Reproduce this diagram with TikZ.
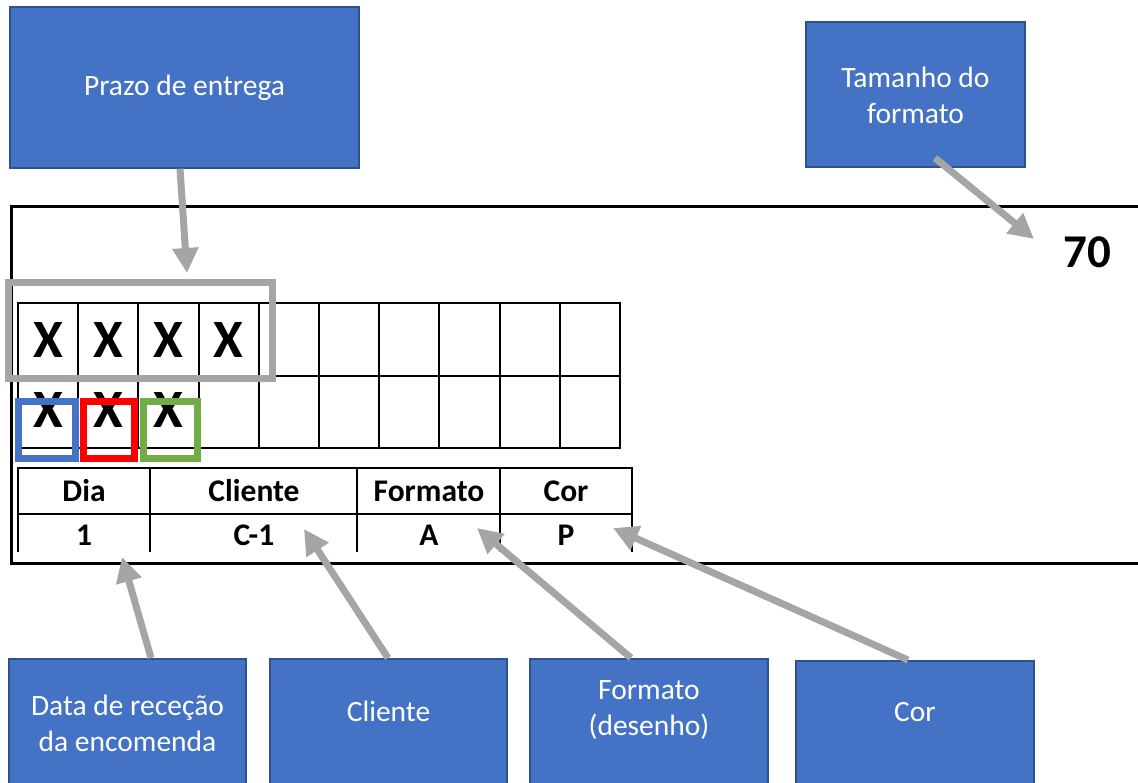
\documentclass[tikz,border=0pt]{standalone}
\usepackage{fontspec}
\setmainfont{Carlito}
\usetikzlibrary{arrows.meta}
\definecolor{boxblue}{HTML}{4472C4}
\definecolor{boxedge}{HTML}{2F528F}
\definecolor{agray}{HTML}{A5A5A5}
\definecolor{xblue}{HTML}{4472C4}
\definecolor{xred}{HTML}{FF0000}
\definecolor{xgreen}{HTML}{70AD47}
\tikzset{
  bbox/.style={draw=boxedge, line width=1.5pt, fill=boxblue, inner sep=0pt},
  btext/.style={text=white, font=\fontsize{29.5}{36}\selectfont, align=center, inner sep=0pt},
  garrow/.style={draw=agray, line width=7pt, -{Triangle[length=25pt,width=25pt]}},
  xmark/.style={font=\fontsize{54}{54}\selectfont\bfseries, inner sep=0pt},
  ttext/.style={font=\fontsize{31.5}{31.5}\selectfont\bfseries, inner sep=0pt},
  gridline/.style={line width=2pt, black},
}
\begin{document}
\begin{tikzpicture}[x=1pt,y=-1pt]
\useasboundingbox (0,0) rectangle (1138,783);
% outer frame
\draw[line width=3pt] (1145,207) -- (11,207) -- (11,563) -- (1145,563);
% top blue boxes
\node[bbox, minimum width=349pt, minimum height=161pt] (prazo) at (184.5,87.5) {};
\node[btext] (prazot) at (184.5,88) {Prazo de entrega};
\node[bbox, minimum width=219pt, minimum height=145pt] (tam) at (915.5,94.5) {};
\node[btext] (tamt) at (915.5,95) {Tamanho do\\formato};
% bottom blue boxes
\node[bbox, minimum width=237pt, minimum height=135pt, anchor=north] (data) at (127.5,658) {};
\node[bbox, minimum width=237pt, minimum height=135pt, anchor=north] (cli) at (388.5,658) {};
\node[bbox, minimum width=238pt, minimum height=135pt, anchor=north] (form) at (649,658) {};
\node[bbox, minimum width=238pt, minimum height=135pt, anchor=north] (cor) at (915,660) {};
\node[btext] (datat) at (127.5,723) {Data de receção\\da encomenda};
\node[btext] (clit) at (388.5,711) {Cliente};
\node[btext] (formt) at (649,710) {Formato\\(desenho)};
\node[btext] (cort) at (915,712) {Cor};
% grid
\foreach \i in {0,...,10} {
  \draw[gridline] ({18+60.2*\i},303) -- ({18+60.2*\i},448);
}
\foreach \y in {303,376,448} {
  \draw[gridline] (17,\y) -- (621,\y);
}
\foreach \i in {0,...,3} {
  \node[xmark] (xa\i) at ({48+60.2*\i},340) {X};
}
\foreach \i in {0,...,2} {
  \node[xmark] (xb\i) at ({48+60.2*\i},410) {X};
}
% gray highlight
\draw[agray, line width=7pt] (8.5,282.5) rectangle (272.5,378.5);
% coloured boxes
\draw[xblue, line width=7pt] (18.5,401.5) rectangle (75.5,458);
\draw[xred, line width=7pt] (83.5,401.5) rectangle (134,458);
\draw[xgreen, line width=7pt] (143.5,401.5) rectangle (197.5,458);
% table
\foreach \x in {18,150,357,500,632} {
  \draw[gridline] (\x,468) -- (\x,552);
}
\draw[gridline] (17,468) -- (633,468);
\draw[gridline] (17,514) -- (633,514);
\node[ttext] (hdia) at (84,491) {Dia};
\node[ttext] (hcli) at (254,491) {Cliente};
\node[ttext] (hform) at (429,491) {Formato};
\node[ttext] (hcor) at (566,491) {Cor};
\node[ttext] (vdia) at (84,535) {1};
\node[ttext] (vcli) at (254,535) {C-1};
\node[ttext] (vform) at (429,535) {A};
\node[ttext] (vcor) at (566,535) {P};
\node[font=\fontsize{47}{47}\selectfont\bfseries, inner sep=0pt] (seventy) at (1087,252) {70};
% arrow tips
\coordinate (tprazo) at (187,273);
\coordinate (ttam) at (1034,239);
\coordinate (tdata) at (122,557);
\coordinate (tcli) at (304,529);
\coordinate (tform) at (477,528);
\coordinate (tcor) at (613,528);
% arrows
\draw[garrow] (prazo.south -| 180,0) -- (tprazo);
\draw[garrow] (935,158) -- (ttam);
\draw[garrow] (data.north -| 151,0) -- (tdata);
\draw[garrow] (cli.north -| 388,0) -- (tcli);
\draw[garrow] (form.north -| 631,0) -- (tform);
\draw[garrow] (cor.north -| 908,0) -- (tcor);
\end{tikzpicture}
\end{document}
